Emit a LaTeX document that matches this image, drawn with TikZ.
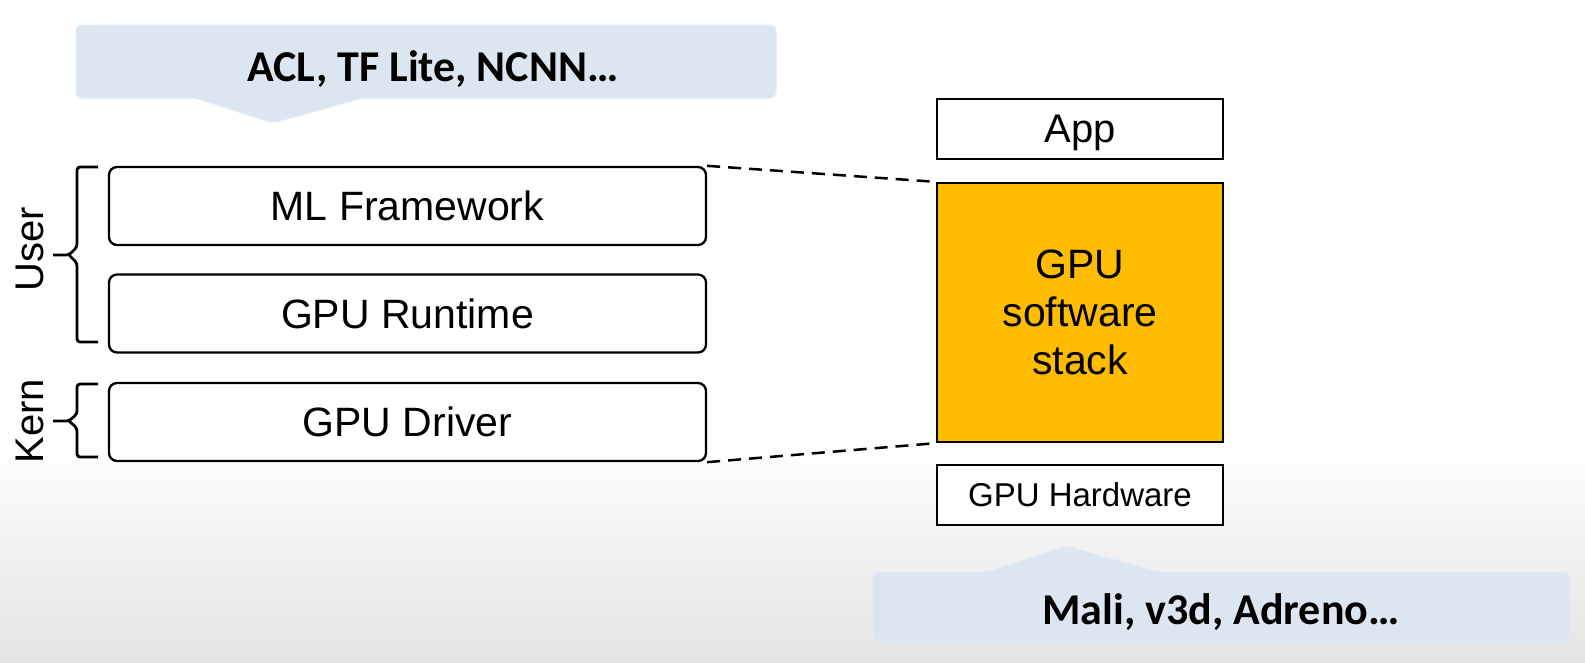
\documentclass[tikz,border=0pt]{standalone}
\usepackage{fontspec}
\setmainfont{Liberation Sans}
\newfontfamily\calib{Carlito}
\definecolor{callout}{HTML}{DCE6F1}
\definecolor{stackfill}{HTML}{FFBC00}
\definecolor{bgbottom}{HTML}{E4E4E4}
\begin{document}
\begin{tikzpicture}[x=1pt,y=-1pt,
  lbox/.style={draw=black,line width=2.3pt,rounded corners=8pt,minimum width=597pt,minimum height=78pt,inner sep=0pt,font=\fontsize{41}{48}\selectfont},
  rbox/.style={draw=black,line width=2.3pt,minimum width=286pt,inner sep=0pt},
  calloutshape/.style={fill=callout,draw=callout!70!white,line width=1pt,rounded corners=6pt},
  callouttext/.style={font=\calib\bfseries\fontsize{44}{50}\selectfont,inner sep=0pt},
  brace/.style={line width=2.8pt,line join=round,rounded corners=3pt},
  sidelabel/.style={rotate=90,font=\fontsize{40}{46}\selectfont,inner sep=0pt},
  link/.style={line width=2.5pt,dash pattern=on 13pt off 8pt}]
\useasboundingbox (0,0) rectangle (1585,662);
\fill[white] (0,0) rectangle (1585,662);
\shade[top color=white,bottom color=bgbottom] (0,440) rectangle (1585,662);
% top callout
\path[calloutshape] (76,25) -- (776,25) -- (776,98) -- (363,98) -- (273,123) -- (195,98) -- (76,98) -- cycle;
\node[callouttext] (topnote) at (433,69) {ACL, TF Lite, NCNN…};
% bottom callout
\path[calloutshape] (872,572) -- (986,572) -- (1067,546) -- (1159,572) -- (1570,572) -- (1570,643) -- (872,643) -- cycle;
\node[callouttext] (botnote) at (1221,612) {Mali, v3d, Adreno…};
% left stack
\node[lbox] (ml) at (407.5,206) {ML Framework};
\node[lbox] (rt) at (407.5,313.5) {GPU Runtime};
\node[lbox] (drv) at (407.5,422) {GPU Driver};
% braces
\coordinate (ut) at (98,167);
\coordinate (ub) at (98,342);
\coordinate (kt) at (98,384);
\coordinate (kb) at (98,457);
\draw[brace] (ut) -- (77,167) -- (77,247) -- (69,255) -- (53,255);
\draw[brace] (ub) -- (77,342) -- (77,263) -- (69,255);
\draw[brace] (kt) -- (77,384) -- (77,414) -- (69,421) -- (53,421);
\draw[brace] (kb) -- (77,457) -- (77,428) -- (69,421);
\node[sidelabel] (user) at (30,249) {User};
\node[sidelabel] (kern) at (30,421) {Kern};
% right stack
\node[rbox,minimum height=60pt,text depth=0pt,font=\fontsize{40}{46}\selectfont] (app) at (1080,129) {App};
\node[rbox,fill=stackfill,minimum height=259pt,font=\fontsize{41}{48}\selectfont,align=center] (stack) at (1080,312.5) {GPU\\software\\stack};
\node[rbox,fill=white,minimum height=60pt,font=\fontsize{33}{40}\selectfont] (hw) at (1080,495) {GPU Hardware};
% dashed links
\draw[link] (ml.north east) -- (stack.north west);
\draw[link] (drv.south east) -- (stack.south west);
\end{tikzpicture}
\end{document}
